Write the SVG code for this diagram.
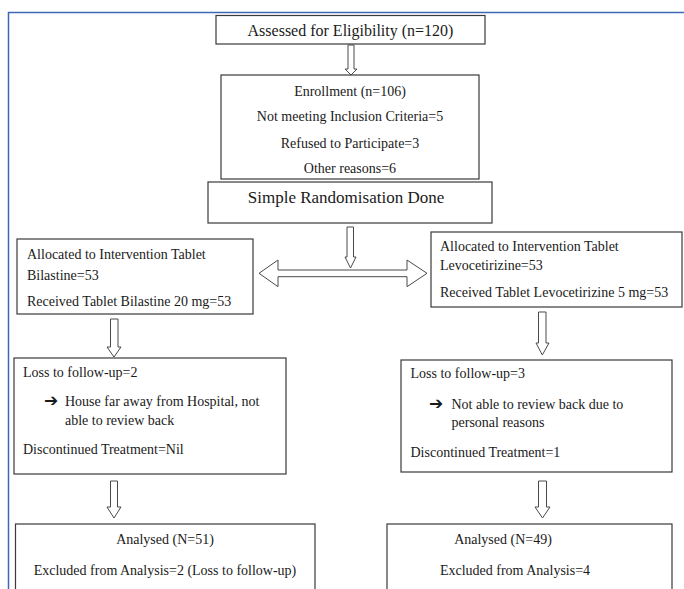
<svg xmlns="http://www.w3.org/2000/svg" width="684" height="589" viewBox="0 0 684 589">
<defs>
<style>
.box{fill:#fff;stroke:#3a3a3a;stroke-width:1.2}
.arr{fill:#fff;stroke:#4a4a4a;stroke-width:1}
.t{font-family:"Liberation Serif","Times New Roman",serif;font-size:14px;fill:#1a1a1a}
.c{text-anchor:middle}
.big{font-size:16px}
.bul{font-family:"DejaVu Sans",sans-serif;font-size:17px;fill:#1a1a1a;font-weight:bold}
.frame{fill:none;stroke:#3f67b8;stroke-width:1.5}
</style>
</defs>
<rect width="684" height="589" fill="#fff"/>
<path class="frame" d="M8.5 589 V12.5 H684"/>
<g id="connectors">
<polygon class="arr" points="348,45 354,45 354,69 357,69 351,75 345,69 348,69"/>
<polygon class="arr" points="347,227 353.5,227 353.5,257 356,257 350.5,268 345,257 347,257"/>
<polygon class="arr" points="259,273.3 278,260 278,270 407,270 407,260 427,273.3 407,286.7 407,276.7 278,276.7 278,286.7"/>
<polygon class="arr" points="110.5,319 118,319 118,347 121,347 114,357 107,347 110.5,347"/>
<polygon class="arr" points="538.5,312 546,312 546,343 549,343 542.3,355 536,343 538.5,343"/>
<polygon class="arr" points="110.5,481 117.5,481 117.5,507 121,507 114,518 107,507 110.5,507"/>
<polygon class="arr" points="538.5,481 546.5,481 546.5,507 550,507 542.5,518 535,507 538.5,507"/>
</g>
<g id="assessed">
<rect class="box" x="216" y="15.5" width="269" height="28.5"/>
<text class="t c big" x="350.5" y="36">Assessed for Eligibility (n=120)</text>
</g>
<g id="enrollment">
<rect class="box" x="221" y="75" width="258" height="104"/>
<text class="t c" x="350" y="96">Enrollment (n=106)</text>
<text class="t c" x="350" y="120.5">Not meeting Inclusion Criteria=5</text>
<text class="t c" x="350" y="147.5">Refused to Participate=3</text>
<text class="t c" x="350" y="173">Other reasons=6</text>
</g>
<g id="randomisation">
<rect class="box" x="208" y="182" width="284" height="41"/>
<text class="t c" style="font-size:17px" x="346" y="203">Simple Randomisation Done</text>
</g>
<g id="bilastine">
<rect class="box" x="17" y="239" width="236" height="75"/>
<text class="t" x="27" y="259">Allocated to Intervention Tablet</text>
<text class="t" x="27" y="280">Bilastine=53</text>
<text class="t" x="27" y="306">Received Tablet Bilastine 20 mg=53</text>
</g>
<g id="levocetirizine">
<rect class="box" x="431" y="232" width="251" height="75"/>
<text class="t" x="440" y="250.5">Allocated to Intervention Tablet</text>
<text class="t" x="440" y="270">Levocetirizine=53</text>
<text class="t" x="440" y="297">Received Tablet Levocetirizine 5 mg=53</text>
</g>
<g id="followup-left">
<rect class="box" x="14" y="358" width="272" height="116"/>
<text class="t" x="23" y="377">Loss to follow-up=2</text>
<text class="bul" x="44" y="406">➔</text>
<text class="t" x="65" y="406">House far away from Hospital, not</text>
<text class="t" x="65" y="424.5">able to review back</text>
<text class="t" x="23" y="453.5">Discontinued Treatment=Nil</text>
</g>
<g id="followup-right">
<rect class="box" x="401" y="360" width="271" height="112"/>
<text class="t" x="410.5" y="378">Loss to follow-up=3</text>
<text class="bul" x="429" y="409">➔</text>
<text class="t" x="451.5" y="408.5">Not able to review back due to</text>
<text class="t" x="451.5" y="426.5">personal reasons</text>
<text class="t" x="410.5" y="457">Discontinued Treatment=1</text>
</g>
<g id="analysed-left">
<rect class="box" x="15.5" y="524" width="299.5" height="80"/>
<text class="t c" x="165" y="544">Analysed (N=51)</text>
<text class="t c" x="165" y="574.5">Excluded from Analysis=2 (Loss to follow-up)</text>
</g>
<g id="analysed-right">
<rect class="box" x="387" y="524" width="285" height="80"/>
<text class="t c" x="503" y="544">Analysed (N=49)</text>
<text class="t c" x="515" y="574.5">Excluded from Analysis=4</text>
</g>
</svg>
